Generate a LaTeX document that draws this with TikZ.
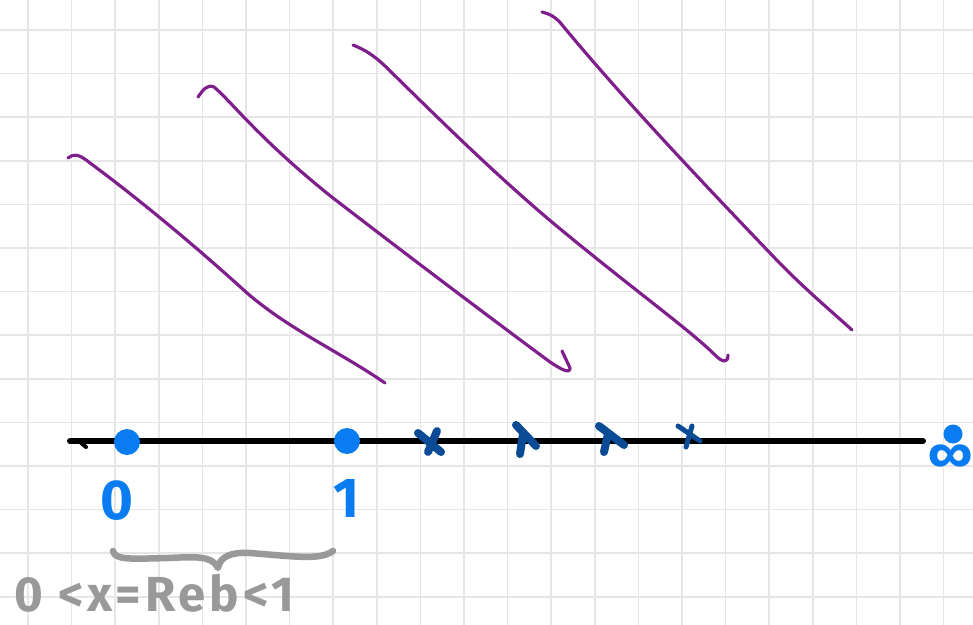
\documentclass[tikz,border=0pt]{standalone}
\usepackage{fontspec}
\setmainfont{Fira Sans}
\usepackage{xcolor}
\usetikzlibrary{positioning}

\definecolor{gridgray}{HTML}{E6E6E6}
\definecolor{dotblue}{HTML}{0A7CF2}
\definecolor{markblue}{HTML}{0B4A94}
\definecolor{curvepurple}{HTML}{7E1F8C}
\definecolor{bracegray}{HTML}{999999}

\begin{document}
\begin{tikzpicture}[
    x=0.02cm, y=-0.02cm,
    node distance=0.5cm,
    gridline/.style={gridgray, line width=0.9pt},
    axisline/.style={black, line width=0.12cm, line cap=round},
    pointdot/.style={circle, fill=dotblue, inner sep=0pt, minimum size=0.52cm},
    numlabel/.style={text=dotblue, font=\fontsize{32}{32}\selectfont\bfseries, inner sep=0pt},
    cross/.style={markblue, line width=0.16cm, line cap=round},
    sweep/.style={curvepurple, line width=1.8pt, line cap=round, line join=round},
    bracket/.style={bracegray, line width=0.13cm, line cap=round, line join=round},
    strip/.style={text=bracegray, font=\fontsize{28}{28}\selectfont\bfseries\addfontfeatures{LetterSpace=8}, inner sep=0pt}
  ]
    \useasboundingbox (0,0) rectangle (973,625);
    \fill[white] (0,0) rectangle (973,625);
    % squared paper
    \foreach \i in {0,...,21} \draw[gridline] (28+43.6*\i,0) -- (28+43.6*\i,625);
    \foreach \j in {0,...,13} \draw[gridline] (0,30+43.6*\j) -- (973,30+43.6*\j);

    % real line
    \coordinate (lineL) at (70,441);
    \coordinate (lineR) at (923,441);
    \draw[axisline] (lineL) -- (lineR);
    \draw[black, line width=0.08cm, line cap=round] (80,442) -- (86,447);

    \node[pointdot] (zero) at (127,442) {};
    \node[pointdot] (one) at (347,441) {};
    \node[numlabel, below=of zero, xshift=-0.2cm] (zerolab) {0};
    \node[numlabel, below=of one] (onelab) {1};

    % crosses on the line
    \draw[cross] (418,433) -- (441,452) (437,431) -- (428,452);
    \draw[cross] (516,425) -- (536,446) (523,434) -- (520,454);
    \draw[cross] (599,426) -- (624,445) (608,434) -- (604,452);
    \draw[cross, line width=0.1cm] (678,426) -- (700,441) (692,426) -- (686,447);

    % infinity at the right end
    \node[circle, fill=dotblue, inner sep=0pt, minimum size=0.38cm] (infdot) at (953,434) {};
    \node[text=dotblue, font=\fontsize{28}{28}\selectfont\bfseries, inner sep=0pt,
      below=0.02cm of infdot, xshift=-0.04cm] (inf) {∞};

    % purple strokes
    \draw[sweep] (68,158) .. controls (73,154) and (78,153) .. (90,163)
      .. controls (120,185) and (180,232) .. (247,293)
      .. controls (290,330) and (340,352) .. (385,383);
    \draw[sweep] (198,97) .. controls (203,90) and (207,84) .. (214,87)
      .. controls (230,100) and (260,140) .. (333,198)
      .. controls (420,265) and (500,325) .. (550,362)
      .. controls (562,370) and (570,374) .. (570,368) -- (562,351);
    \draw[sweep] (353,45) .. controls (365,50) and (372,54) .. (385,66)
      .. controls (430,110) and (490,170) .. (553,223)
      .. controls (630,287) and (690,330) .. (715,355)
      .. controls (722,362) and (728,364) .. (728,355);
    \draw[sweep] (542,12) .. controls (550,14) and (556,17) .. (563,26)
      .. controls (620,95) and (700,180) .. (770,253)
      .. controls (800,285) and (830,310) .. (852,330);

    % brace and strip label
    \coordinate (braceL) at (113,551);
    \coordinate (braceR) at (333,551);
    \coordinate (bracetip) at (218,568);
    \draw[bracket] (braceL) .. controls (115,560) and (130,559) .. (167,558)
      .. controls (195,557) and (212,555) .. (bracetip)
      .. controls (220,556) and (232,552) .. (250,553)
      .. controls (300,557) and (320,560) .. (braceR);
    \node[strip, anchor=base west] (striplab) at (14,611) {0 <x=Reb<1};
  \end{tikzpicture}
\end{document}
